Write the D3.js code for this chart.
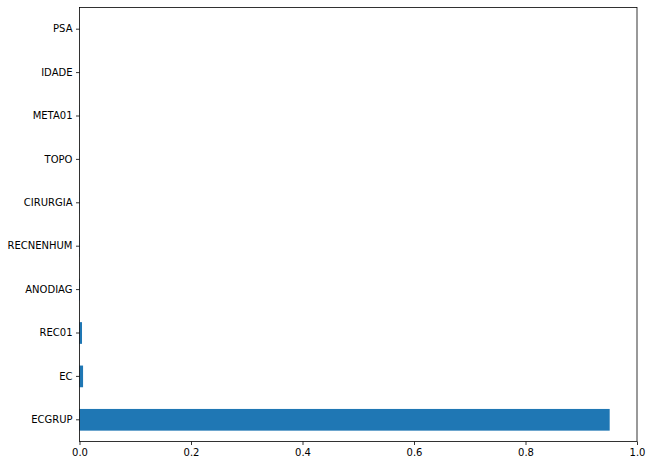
<!DOCTYPE html>
<html>
<head>
<meta charset="utf-8">
<script src="https://cdn.jsdelivr.net/npm/d3@7"></script>
<style>
body { margin: 0; background: #fff; }
text { font-family: "DejaVu Sans", sans-serif; font-size: 10px; fill: #000; }
</style>
</head>
<body>
<div id="main"></div>
<script>
// features, bottom to top
var features = ["ECGRUP", "EC", "REC01", "ANODIAG", "RECNENHUM", "CIRURGIA", "TOPO", "META01", "IDADE", "PSA"];
var importance = [0.951, 0.0064, 0.0045, 0.0008, 0.0004, 0.0003, 0.0002, 0.0002, 0.0001, 0.0001];
var xTicks = [0, 0.2, 0.4, 0.6, 0.8, 1.0];

var ctx = {
    w: 650,
    h: 466,
    left: 79.5,
    right: 637,
    top: 7.5,
    bottom: 441.5,
};

var svg = d3.select("#main").append("svg")
    .attr("width", ctx.w)
    .attr("height", ctx.h);

var x = d3.scaleLinear().domain([0, 1]).range([ctx.left, ctx.right]);
// band scale with padding so bars are half the slot height
var y = d3.scaleBand()
    .domain(features.slice().reverse())
    .range([ctx.top, ctx.bottom])
    .paddingInner(0.5)
    .paddingOuter(0.25);

svg.append("g")
    .selectAll("rect")
    .data(features)
    .enter()
    .append("rect")
    .attr("x", x(0))
    .attr("y", function (d) { return y(d); })
    .attr("width", function (d, i) { return x(importance[i]) - x(0); })
    .attr("height", y.bandwidth())
    .attr("fill", "#1f77b4");

var xAxis = svg.append("g")
    .attr("transform", "translate(0," + ctx.bottom + ")")
    .call(d3.axisBottom(x).tickValues(xTicks).tickFormat(d3.format(".1f")).tickSize(3.5).tickPadding(3.5));

var yAxis = svg.append("g")
    .attr("transform", "translate(" + ctx.left + ",0)")
    .call(d3.axisLeft(y).tickSize(3.5).tickPadding(3.5));

[xAxis, yAxis].forEach(function (g) {
    g.select(".domain").remove();
    g.selectAll("line").attr("stroke", "#000").attr("stroke-width", 0.8);
    g.selectAll("text").attr("font-family", "DejaVu Sans").attr("font-size", 10).attr("fill", "#000");
});

// frame
svg.append("rect")
    .attr("x", ctx.left)
    .attr("y", ctx.top)
    .attr("width", ctx.right - ctx.left)
    .attr("height", ctx.bottom - ctx.top)
    .attr("fill", "none")
    .attr("stroke", "#000")
    .attr("stroke-width", 0.8);
</script>
</body>
</html>
